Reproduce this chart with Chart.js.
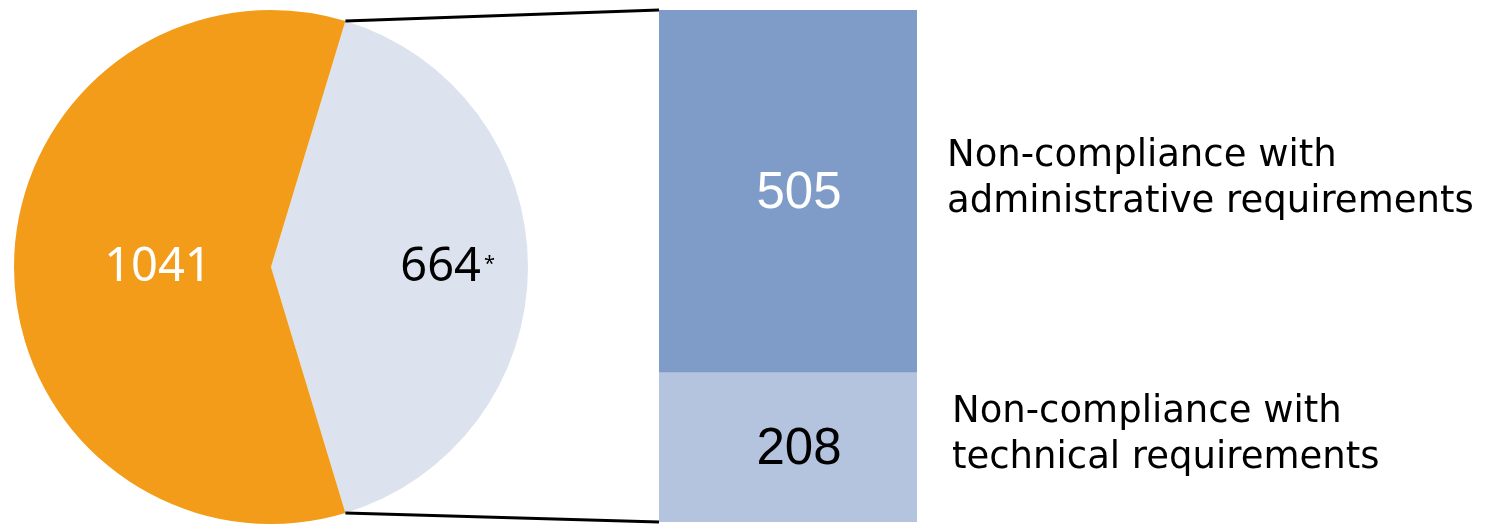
<!DOCTYPE html>
<html>
<head>
<meta charset="utf-8">
<script src="https://cdn.jsdelivr.net/npm/chart.js@4.4.0/dist/chart.umd.min.js"></script>
<style>
    html, body { margin: 0; padding: 0; background: #fff; }
    #wrap { position: relative; width: 1485px; height: 524px; }
    #wrap canvas { position: absolute; left: 0; top: 0; }
</style>
</head>
<body>
<div id="wrap">
    <canvas id="pieChart" width="1485" height="524"></canvas>
    <canvas id="barChart" width="1485" height="524"></canvas>
</div>
<script>
// ===== Data =====
const pieTexts = ['664', '1041'];
const pieNotes = ['*', ''];
const pieColors = ['#dce2ee', '#f39c19'];
const pieTextColors = ['#000000', '#ffffff'];

const barCategories = [
    ['Non-compliance with', 'technical requirements'],
    ['Non-compliance with', 'administrative requirements']
];
const barValues = [208, 505];
const barColors = ['#b4c3de', '#7f9cc8'];
const barTextColors = ['#000000', '#ffffff'];

// the split slice is sized by its breakdown (505 + 208), the printed figure is 664*
const otherValue = 1041;
const splitValue = barValues.reduce((a, b) => a + b, 0);
const pieValues = [splitValue, otherValue];

// slice centred on 3 o'clock
const pieTotal = pieValues.reduce((a, b) => a + b, 0);
const pieRotation = 90 - 180 * pieValues[0] / pieTotal;

// ===== Pie =====
const pieLabelPlugin = {
    id: 'pieLabels',
    afterDatasetsDraw(chart) {
        const ctx = chart.ctx;
        const arcs = chart.getDatasetMeta(0).data;
        const radiusFactor = [0.66, 0.44];
        ctx.save();
        arcs.forEach((arc, i) => {
            const mid = (arc.startAngle + arc.endAngle) / 2;
            const r = arc.outerRadius * radiusFactor[i];
            const x = arc.x + Math.cos(mid) * r;
            const y = arc.y + Math.sin(mid) * r + 1;
            ctx.font = '47px "Noto Sans"';
            ctx.fillStyle = pieTextColors[i];
            ctx.textAlign = 'center';
            ctx.textBaseline = 'middle';
            ctx.fillText(pieTexts[i], x, y);
            if (pieNotes[i]) {
                const w = ctx.measureText(pieTexts[i]).width;
                ctx.font = '20px "Noto Sans"';
                ctx.textAlign = 'left';
                ctx.textBaseline = 'top';
                ctx.fillText(pieNotes[i], x + w / 2 + 3, y - 14);
            }
        });
        ctx.restore();
    }
};

const pieChart = new Chart(document.getElementById('pieChart'), {
    type: 'pie',
    data: {
        labels: pieTexts,
        datasets: [{
            data: pieValues,
            backgroundColor: pieColors,
            borderWidth: 0
        }]
    },
    options: {
        responsive: false,
        animation: false,
        rotation: pieRotation,
        layout: { padding: { left: 13, top: 10, right: 956, bottom: 0 } },
        plugins: { legend: { display: false }, tooltip: { enabled: false } }
    },
    plugins: [pieLabelPlugin]
});

// ===== Bar of pie =====
const barLabelPlugin = {
    id: 'barLabels',
    afterDatasetsDraw(chart) {
        const ctx = chart.ctx;
        const area = chart.chartArea;
        const textOffsets = [35, 30];
        ctx.save();

        chart.data.datasets.forEach((ds, i) => {
            const bar = chart.getDatasetMeta(i).data[0];
            const cy = (bar.y + bar.base) / 2;

            ctx.font = '51px "Liberation Sans"';
            ctx.fillStyle = barTextColors[i];
            ctx.textAlign = 'center';
            ctx.textBaseline = 'middle';
            ctx.fillText(String(barValues[i]), bar.x + 11, cy + 3);

            ctx.font = '37px "DejaVu Sans"';
            ctx.fillStyle = '#000';
            ctx.textAlign = 'left';
            const lines = barCategories[i];
            lines.forEach((line, j) => {
                ctx.fillText(line, area.right + textOffsets[i], cy - 12 + (j - 0.5) * 46);
            });
        });

        // connector lines from the split slice to the bar
        const arc = pieChart.getDatasetMeta(0).data[0];
        const top = chart.getDatasetMeta(chart.data.datasets.length - 1).data[0];
        const bottom = chart.getDatasetMeta(0).data[0];
        const left = top.x - top.width / 2;
        ctx.strokeStyle = '#000';
        ctx.lineWidth = 3;
        ctx.beginPath();
        ctx.moveTo(arc.x + Math.cos(arc.startAngle) * arc.outerRadius, arc.y + Math.sin(arc.startAngle) * arc.outerRadius);
        ctx.lineTo(left, top.y);
        ctx.moveTo(arc.x + Math.cos(arc.endAngle) * arc.outerRadius, arc.y + Math.sin(arc.endAngle) * arc.outerRadius);
        ctx.lineTo(left, bottom.base);
        ctx.stroke();
        ctx.restore();
    }
};

new Chart(document.getElementById('barChart'), {
    type: 'bar',
    data: {
        labels: [''],
        datasets: barValues.map((v, i) => ({
            label: barCategories[i].join(' '),
            data: [v],
            backgroundColor: barColors[i],
            borderWidth: 0,
            barPercentage: 1,
            categoryPercentage: 1
        }))
    },
    options: {
        responsive: false,
        animation: false,
        layout: { padding: { left: 659, right: 568, top: 10, bottom: 2 } },
        scales: {
            x: { stacked: true, display: false },
            y: { stacked: true, display: false, min: 0, max: splitValue }
        },
        plugins: { legend: { display: false }, tooltip: { enabled: false } }
    },
    plugins: [barLabelPlugin]
});
</script>
</body>
</html>
